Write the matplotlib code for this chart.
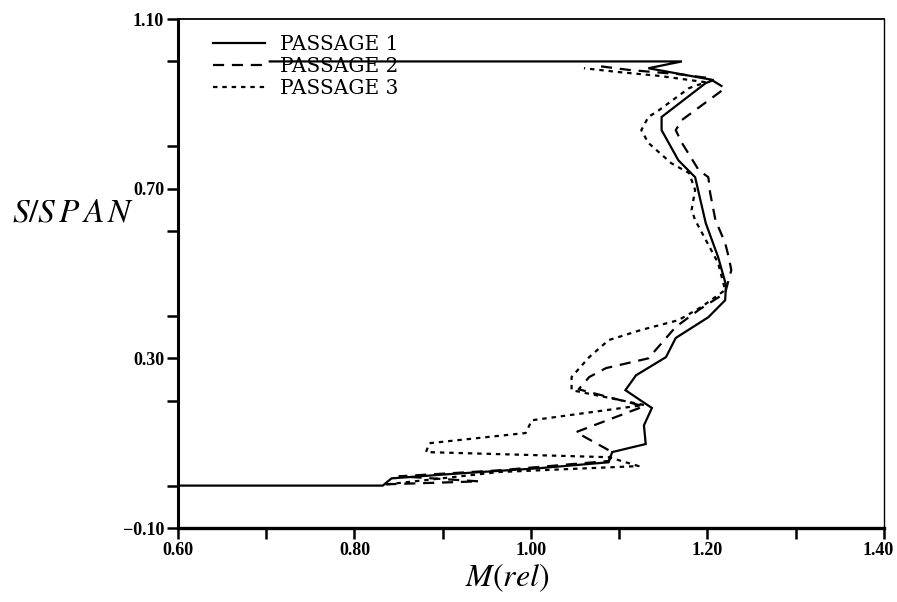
import matplotlib
matplotlib.use("Agg")
import matplotlib.pyplot as plt
import matplotlib.transforms as mtransforms
from matplotlib.ticker import MultipleLocator

# Relative Mach number along the span, one curve per passage
m_passage1 = [0.60, 0.832, 0.842, 0.907, 1.009, 1.088, 1.092, 1.130, 1.128, 1.137,
              1.107, 1.119, 1.153, 1.164, 1.201, 1.220, 1.221, 1.212, 1.198, 1.186,
              1.167, 1.148, 1.148, 1.198, 1.207, 1.133, 1.171, 0.704]
s_passage1 = [0.000, 0.000, 0.017, 0.027, 0.041, 0.055, 0.079, 0.098, 0.142, 0.183,
              0.225, 0.260, 0.303, 0.348, 0.397, 0.437, 0.473, 0.539, 0.619, 0.727,
              0.767, 0.838, 0.869, 0.949, 0.956, 0.984, 1.000, 1.000]

m_passage2 = [0.835, 0.941, 0.851, 0.964, 1.088, 1.092, 1.051, 1.128, 1.054, 1.066,
              1.085, 1.133, 1.164, 1.190, 1.220, 1.227, 1.224, 1.220, 1.209, 1.203,
              1.201, 1.190, 1.171, 1.164, 1.171, 1.220, 1.201, 1.167, 1.111, 1.077]
s_passage2 = [0.003, 0.010, 0.022, 0.036, 0.058, 0.079, 0.126, 0.187, 0.227, 0.256,
              0.277, 0.300, 0.374, 0.414, 0.454, 0.508, 0.539, 0.572, 0.626, 0.690,
              0.727, 0.744, 0.808, 0.838, 0.862, 0.937, 0.961, 0.970, 0.980, 0.989]

m_passage3 = [0.837, 0.964, 1.122, 1.088, 0.881, 0.885, 0.994, 1.001, 1.128, 1.046,
              1.046, 1.066, 1.088, 1.125, 1.167, 1.193, 1.220, 1.212, 1.186, 1.182,
              1.186, 1.179, 1.159, 1.133, 1.125, 1.133, 1.145, 1.179, 1.198, 1.145,
              1.099, 1.060]
s_passage3 = [0.003, 0.032, 0.046, 0.067, 0.079, 0.100, 0.124, 0.154, 0.190, 0.225,
              0.256, 0.303, 0.343, 0.367, 0.390, 0.421, 0.461, 0.525, 0.626, 0.650,
              0.697, 0.737, 0.760, 0.808, 0.838, 0.869, 0.885, 0.937, 0.951, 0.966,
              0.975, 0.984]

x_ticks = [0.60, 0.80, 1.00, 1.20, 1.40]
x_tick_labels = ["0.60", "0.80", "1.00", "1.20", "1.40"]
y_ticks = [-0.10, 0.30, 0.70, 1.10]
y_tick_labels = ["\u22120.10", "0.30", "0.70", "1.10"]

series = [
    ("PASSAGE 1", m_passage1, s_passage1, "-"),
    ("PASSAGE 2", m_passage2, s_passage2, (0, (5, 3.5))),
    ("PASSAGE 3", m_passage3, s_passage3, (0, (2, 2.2))),
]

plt.rcParams["mathtext.fontset"] = "stix"
tick_font = {"family": "Liberation Serif", "weight": "bold", "size": 13}

fig = plt.figure(figsize=(8.97, 6.02), dpi=100)
ax = fig.add_axes([0.1984, 0.1229, 0.7871, 0.8455])

for label, m, s, ls in series:
    ax.plot(m, s, color="black", linestyle=ls, linewidth=1.6, label=label,
            solid_joinstyle="miter")

ax.set_xlim(0.60, 1.40)
ax.set_ylim(-0.10, 1.10)

ax.set_xticks(x_ticks, x_tick_labels, fontdict=tick_font)
ax.set_yticks(y_ticks, y_tick_labels, fontdict=tick_font)
ax.xaxis.set_minor_locator(MultipleLocator(0.10))
ax.yaxis.set_minor_locator(MultipleLocator(0.20))
ax.tick_params(which="both", direction="out", length=8, width=1.8, pad=2,
               top=False, right=False)

# keep the right-most tick label inside the figure edge
last = ax.get_xticklabels()[-1]
last.set_transform(last.get_transform()
                   + mtransforms.ScaledTranslation(-4 / 72, 0, fig.dpi_scale_trans))

ax.spines["left"].set_linewidth(2.2)
ax.spines["bottom"].set_linewidth(2.4)
ax.spines["top"].set_linewidth(1.3)
ax.spines["right"].set_linewidth(1.0)

ax.set_xlabel(r"$M(rel)$", fontsize=23)
ax.xaxis.set_label_coords(0.467, -0.065)
ax.text(-0.235, 0.62, r"$S/S\,P\,A\,N$", transform=ax.transAxes, fontsize=24,
        ha="left", va="center")

ax.legend(loc="upper left", bbox_to_anchor=(0.049, 0.968), frameon=False,
          borderpad=0, borderaxespad=0, handlelength=2.6, handletextpad=0.75,
          labelspacing=0.15, prop={"family": "DejaVu Serif", "size": 14.5})

fig.savefig("out.png", dpi=100)
